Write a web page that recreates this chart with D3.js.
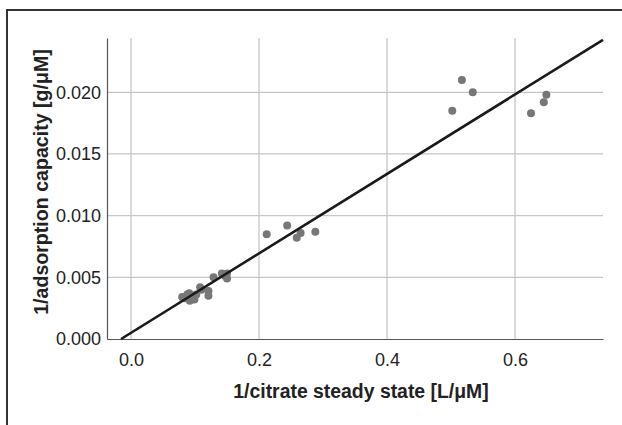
<!DOCTYPE html>
<html>
<head>
<meta charset="utf-8">
<script src="https://cdn.jsdelivr.net/npm/d3@7.9.0/dist/d3.min.js"></script>
<style>
  body { margin: 0; background: #fff; }
  svg { display: block; font-family: "Liberation Sans", Arial, sans-serif; }
</style>
</head>
<body>
<svg id="chart" width="622" height="425"></svg>
<script>
// 1/citrate steady state [L/uM]
const xVals = [0.080, 0.084, 0.088, 0.091, 0.092, 0.095, 0.099, 0.102, 0.108, 0.110,
  0.121, 0.121, 0.129, 0.142, 0.150, 0.150, 0.147,
  0.212, 0.244, 0.259, 0.265, 0.288,
  0.502, 0.517, 0.534, 0.625, 0.645, 0.649];
// 1/adsorption capacity [g/uM]
const yVals = [0.0034, 0.0033, 0.0036, 0.0037, 0.0031, 0.0034, 0.0032, 0.0036, 0.0042, 0.0040,
  0.0039, 0.0035, 0.0050, 0.0053, 0.0053, 0.0049, 0.0051,
  0.0085, 0.0092, 0.0082, 0.0086, 0.0087,
  0.0185, 0.0210, 0.0200, 0.0183, 0.0192, 0.0198];
const xTicks = [0.0, 0.2, 0.4, 0.6];
const yTicks = [0.000, 0.005, 0.010, 0.015, 0.020];
// fitted line
const fitIntercept = 0.0005;
const fitSlope = 0.0322;
const fitX = [-0.0155, 0.7375];

const svg = d3.select("#chart");

// frame (top and left edges only)
svg.append("path")
  .attr("d", "M7,425 V10 H622")
  .attr("fill", "none")
  .attr("stroke", "#333")
  .attr("stroke-width", 2);

const x = d3.scaleLinear().domain([-0.0375, 0.7375]).range([107, 603]);
const y = d3.scaleLinear().domain([0, 0.0244]).range([339, 38]);

// grid
svg.append("g").selectAll("line").data(xTicks).join("line")
  .attr("x1", d => x(d)).attr("x2", d => x(d))
  .attr("y1", y.range()[0]).attr("y2", y.range()[1])
  .attr("stroke", "#c6c6c6").attr("stroke-width", 1.3);
svg.append("g").selectAll("line").data(yTicks.slice(1)).join("line")
  .attr("x1", x.range()[0]).attr("x2", x.range()[1])
  .attr("y1", d => y(d)).attr("y2", d => y(d))
  .attr("stroke", "#c6c6c6").attr("stroke-width", 1.3);

// axes
const xAxis = svg.append("g")
  .attr("transform", `translate(0,${y(0)})`)
  .call(d3.axisBottom(x).tickValues(xTicks).tickFormat(d3.format(".1f")).tickSize(0).tickPadding(14));
const yAxis = svg.append("g")
  .attr("transform", `translate(${x.range()[0]},0)`)
  .call(d3.axisLeft(y).tickValues(yTicks).tickFormat(d3.format(".3f")).tickSize(0).tickPadding(6));

[xAxis, yAxis].forEach(g => {
  g.select(".domain").attr("stroke", "#555").attr("stroke-width", 1.2);
  g.selectAll("text").attr("font-size", 18).attr("fill", "#222")
    .attr("font-family", "'Liberation Sans', Arial, sans-serif");
});

// points
svg.append("g").selectAll("circle").data(xVals).join("circle")
  .attr("cx", d => x(d))
  .attr("cy", (d, i) => y(yVals[i]))
  .attr("r", 4)
  .attr("fill", "#777");

// regression line
svg.append("line")
  .attr("x1", x(fitX[0])).attr("y1", y(fitIntercept + fitSlope * fitX[0]))
  .attr("x2", x(fitX[1])).attr("y2", y(fitIntercept + fitSlope * fitX[1]))
  .attr("stroke", "#1a1a1a").attr("stroke-width", 2.6);

// axis titles
svg.append("text")
  .attr("x", 361).attr("y", 398)
  .attr("text-anchor", "middle")
  .attr("font-size", 19.4).attr("font-weight", "bold").attr("fill", "#222")
  .text("1/citrate steady state [L/μM]");
svg.append("text")
  .attr("transform", "translate(48,182) rotate(-90)")
  .attr("text-anchor", "middle")
  .attr("font-size", 19.6).attr("font-weight", "bold").attr("fill", "#222")
  .text("1/adsorption capacity [g/μM]");
</script>
</body>
</html>
